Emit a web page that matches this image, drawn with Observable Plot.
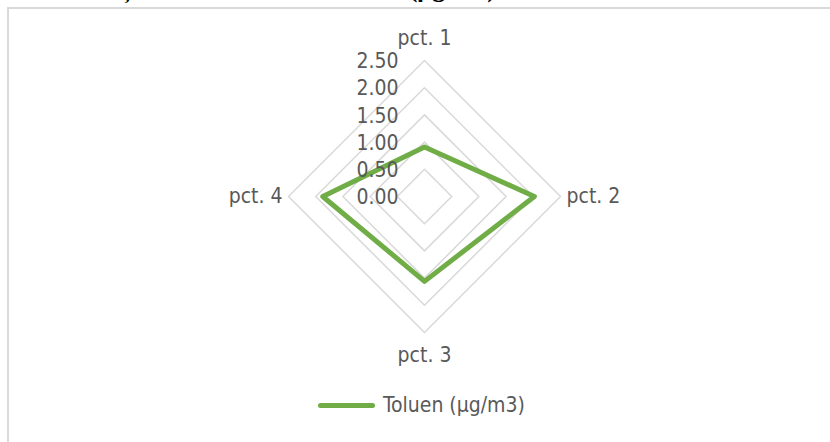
<!DOCTYPE html>
<html>
<head>
<meta charset="utf-8">
<script src="https://cdn.jsdelivr.net/npm/d3@7"></script>
<script src="https://cdn.jsdelivr.net/npm/@observablehq/plot@0.6"></script>
<style>
  html, body { margin: 0; padding: 0; background: #fff; }
  #wrap { position: relative; width: 830px; height: 442px; overflow: hidden; }
  #title { position: absolute; left: 5px; top: -26px; font: bold 26px "Liberation Serif", serif; color: #000; white-space: nowrap; }
  #frame { position: absolute; left: 7px; top: 7px; width: 830px; height: 442px; border-left: 2px solid #d9d9d9; border-top: 2px solid #d9d9d9; }
  #chart { position: absolute; left: 0; top: 0; }
  #legend { position: absolute; left: 318px; top: 393px; display: flex; align-items: center; font: 21px "DejaVu Sans Condensed", "DejaVu Sans", sans-serif; font-stretch: condensed; color: #595959; }
  #legend .sw { width: 57px; height: 5px; border-radius: 3px; background: #70ad47; margin-right: 8px; }
</style>
</head>
<body>
<div id="wrap">
  <div id="title">Concentrații medii anuale de toluen (µg/m3)</div>
  <div id="frame"></div>
  <div id="chart"></div>
  <div id="legend"></div>
</div>
<script>
const categories = ["pct. 1", "pct. 2", "pct. 3", "pct. 4"];
const seriesName = "Toluen (µg/m3)";
const seriesValues = [0.91, 2.02, 1.56, 1.87];
const tickValues = [0, 0.5, 1, 1.5, 2, 2.5];
const tickLabels = ["0.00", "0.50", "1.00", "1.50", "2.00", "2.50"];

const W = 830, H = 442;
const cx = 424, cy = 196, R = 136;
const rMax = d3.max(tickValues);
const k = R / rMax; // pixels per unit

const ang = i => (i * 2 * Math.PI) / categories.length;
const px = (r, i) => r * Math.sin(ang(i));
const py = (r, i) => r * Math.cos(ang(i));

const ringData = tickValues.filter(t => t > 0).flatMap(t => categories.map((c, i) => ({t, i})));
const seriesData = categories.map((c, i) => ({c, i, v: seriesValues[i]}));
const tickData = tickValues.map((t, j) => ({t, label: tickLabels[j]}));
const catData = categories.map((c, i) => ({c, i}));

const font = '"DejaVu Sans Condensed", "DejaVu Sans", sans-serif';

const chart = Plot.plot({
  width: W,
  height: H,
  margin: 0,
  style: {fontFamily: font, fontSize: "21px", fontStretch: "condensed", background: "transparent"},
  x: {domain: [-cx / k, (W - cx) / k], axis: null},
  y: {domain: [-(H - cy) / k, cy / k], axis: null},
  marks: [
    Plot.line(ringData, {x: d => px(d.t, d.i), y: d => py(d.t, d.i), z: "t", curve: "linear-closed", stroke: "#d9d9d9", strokeWidth: 1.5}),
    Plot.line(seriesData, {x: d => px(d.v, d.i), y: d => py(d.v, d.i), curve: "linear-closed", stroke: "#70ad47", strokeWidth: 5, strokeLinejoin: "round"}),
    Plot.text(tickData, {x: 0, y: "t", text: "label", textAnchor: "end", dx: -26, dy: 1, fill: "#595959"}),
    Plot.text(catData.filter(d => d.i === 0), {x: d => px(rMax, d.i), y: d => py(rMax, d.i), text: "c", dy: -22, fill: "#595959"}),
    Plot.text(catData.filter(d => d.i === 1), {x: d => px(rMax, d.i), y: d => py(rMax, d.i), text: "c", textAnchor: "start", dx: 6, fill: "#595959"}),
    Plot.text(catData.filter(d => d.i === 2), {x: d => px(rMax, d.i), y: d => py(rMax, d.i), text: "c", dy: 23, fill: "#595959"}),
    Plot.text(catData.filter(d => d.i === 3), {x: d => px(rMax, d.i), y: d => py(rMax, d.i), text: "c", textAnchor: "end", dx: -6, fill: "#595959"})
  ]
});
document.getElementById("chart").appendChild(chart);

const legend = document.getElementById("legend");
legend.innerHTML = '<div class="sw"></div><span></span>';
legend.querySelector("span").textContent = seriesName;
</script>
</body>
</html>
